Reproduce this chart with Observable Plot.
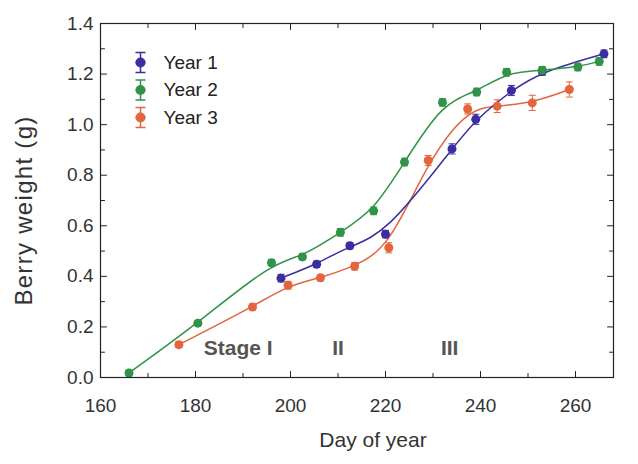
<!DOCTYPE html>
<html><head><meta charset="utf-8">
<script src="https://cdn.jsdelivr.net/npm/d3@7"></script>
<script src="https://cdn.jsdelivr.net/npm/@observablehq/plot@0.6"></script>
<style>
body{margin:0;background:#fff;}
#chart{width:638px;height:464px;}
svg{font-family:"Liberation Sans",Arial,sans-serif;}
</style></head><body><div id="chart"></div>
<script>
const seriesNames = ["Year 1", "Year 2", "Year 3"];
const seriesColors = ["#3a2ea0", "#2f9448", "#e4643e"];

const year1Day = [198, 205.5, 212.5, 220, 234, 239, 246.5, 253, 266];
const year1Weight = [0.393, 0.448, 0.521, 0.567, 0.904, 1.021, 1.135, 1.21, 1.28];
const year1Err = [0.015, 0.012, 0.012, 0.015, 0.02, 0.02, 0.02, 0.015, 0.015];

const year2Day = [166, 180.5, 196, 202.5, 210.5, 217.5, 224, 232, 239.2, 245.5, 253, 260.5, 265];
const year2Weight = [0.018, 0.215, 0.454, 0.477, 0.574, 0.659, 0.852, 1.088, 1.129, 1.207, 1.215, 1.228, 1.25];
const year2Err = [0.01, 0.01, 0.012, 0.012, 0.015, 0.015, 0.015, 0.015, 0.015, 0.015, 0.015, 0.015, 0.015];

const year3Day = [176.5, 192, 199.5, 206.3, 213.5, 220.7, 229, 237.3, 243.5, 250.9, 258.7];
const year3Weight = [0.13, 0.279, 0.365, 0.394, 0.44, 0.513, 0.858, 1.062, 1.073, 1.086, 1.139];
const year3Err = [0.012, 0.012, 0.015, 0.012, 0.015, 0.02, 0.02, 0.02, 0.025, 0.03, 0.03];

const xTicks = [160, 180, 200, 220, 240, 260];
const xMinorTicks = [170, 190, 210, 230, 250];
const yTicks = [0, 0.2, 0.4, 0.6, 0.8, 1.0, 1.2, 1.4];
const yMinorTicks = [0.1, 0.3, 0.5, 0.7, 0.9, 1.1, 1.3];

const stageLabels = ["Stage I", "II", "III"];
const stageDays = [189, 210, 233.5];

const yTitle = "Berry weight (g)";
const xTitle = "Day of year";

const seriesDays = [year1Day, year2Day, year3Day];
const seriesWeights = [year1Weight, year2Weight, year3Weight];
const seriesErrs = [year1Err, year2Err, year3Err];

const rows = [];
seriesNames.forEach((name, s) => {
  seriesDays[s].forEach((day, i) => {
    rows.push({series: name, day, weight: seriesWeights[s][i], err: seriesErrs[s][i]});
  });
});
const order = ["Year 3", "Year 1", "Year 2"];
rows.sort((a, b) => order.indexOf(a.series) - order.indexOf(b.series));

const tickShape = {draw(ctx, l) { ctx.moveTo(0, 0); ctx.lineTo(0, -l); }};
const capSymbol = {draw(ctx, size) { const w = 3.5; ctx.moveTo(-w, 0); ctx.lineTo(w, 0); }};
const legendErrSymbol = {draw(ctx, size) {
  const w = 5, h = 10;
  ctx.moveTo(-w, -h); ctx.lineTo(w, -h);
  ctx.moveTo(0, -h); ctx.lineTo(0, h);
  ctx.moveTo(-w, h); ctx.lineTo(w, h);
  ctx.moveTo(-w, 0); ctx.lineTo(w, 0);
}};

const tickColor = "#222";
function ticks(values, k, anchor, len) {
  const rot = {bottom: 0, top: 180, left: 90, right: -90}[anchor];
  const o = {frameAnchor: anchor, length: len, rotate: rot, anchor: "start", shape: tickShape, stroke: tickColor, strokeWidth: 1};
  o[k] = d => d;
  return Plot.vector(values, o);
}

const legendMarks = [];
seriesNames.forEach((name, i) => {
  const dy = 39 + 27.5 * i;
  legendMarks.push(
    Plot.dot([name], {frameAnchor: "top-left", dx: 40, dy, symbol: legendErrSymbol, stroke: seriesColors[i], strokeWidth: 1.5, r: 5}),
    Plot.dot([name], {frameAnchor: "top-left", dx: 40, dy, fill: seriesColors[i], r: 5}),
    Plot.text([name], {frameAnchor: "top-left", dx: 63, dy, text: d => d, textAnchor: "start", lineAnchor: "middle", fontSize: 19, fill: "#222"})
  );
});

const chart = Plot.plot({
  width: 638,
  height: 464,
  marginLeft: 100,
  marginRight: 25,
  marginTop: 23,
  marginBottom: 87,
  x: {domain: [160, 268], label: null},
  y: {domain: [0, 1.4], label: null},
  color: {domain: seriesNames, range: seriesColors},
  style: {fontFamily: "Liberation Sans, Arial, sans-serif", background: "#fff"},
  marks: [
    Plot.axisX({ticks: xTicks, tickSize: 0, tickPadding: 21, fontSize: 19, fill: "#333", tickFormat: "d", label: null}),
    Plot.axisY({ticks: yTicks, tickSize: 0, tickPadding: 7, fontSize: 19, fill: "#333", tickFormat: d3.format(".1f"), label: null}),
    ticks(xTicks, "x", "bottom", 6), ticks(xMinorTicks, "x", "bottom", 4),
    ticks(xTicks, "x", "top", 6), ticks(xMinorTicks, "x", "top", 4),
    ticks(yTicks, "y", "left", 6), ticks(yMinorTicks, "y", "left", 4),
    ticks(yTicks, "y", "right", 6), ticks(yMinorTicks, "y", "right", 4),
    Plot.line(rows, {x: "day", y: "weight", z: "series", stroke: "series", strokeWidth: 1.5, curve: "basis"}),
    Plot.ruleX(rows, {x: "day", y1: d => d.weight - d.err, y2: d => d.weight + d.err, stroke: "series", strokeWidth: 1}),
    Plot.dot(rows, {x: "day", y: d => d.weight - d.err, symbol: capSymbol, stroke: "series", strokeWidth: 1}),
    Plot.dot(rows, {x: "day", y: d => d.weight + d.err, symbol: capSymbol, stroke: "series", strokeWidth: 1}),
    Plot.dot(rows, {x: "day", y: "weight", fill: "series", r: 4.5}),
    Plot.text(stageLabels, {x: (d, i) => stageDays[i], frameAnchor: "bottom", dy: -29, lineAnchor: "middle", textAnchor: "middle", fontWeight: "bold", fill: "#555", fontSize: 21}),
    ...legendMarks,
    Plot.text([yTitle], {frameAnchor: "left", rotate: -90, dx: -76, dy: 10, textAnchor: "middle", lineAnchor: "middle", fontSize: 24, fill: "#333"}),
    Plot.text([xTitle], {frameAnchor: "bottom", dx: 16, dy: 63, textAnchor: "middle", lineAnchor: "middle", fontSize: 21, fill: "#333"}),
    Plot.frame({stroke: "#222", strokeWidth: 1.2})
  ]
});
d3.select(chart).selectAll("text").filter(function() { return this.textContent === yTitle; }).attr("letter-spacing", "1.3px");
document.getElementById("chart").appendChild(chart);
</script></body></html>
